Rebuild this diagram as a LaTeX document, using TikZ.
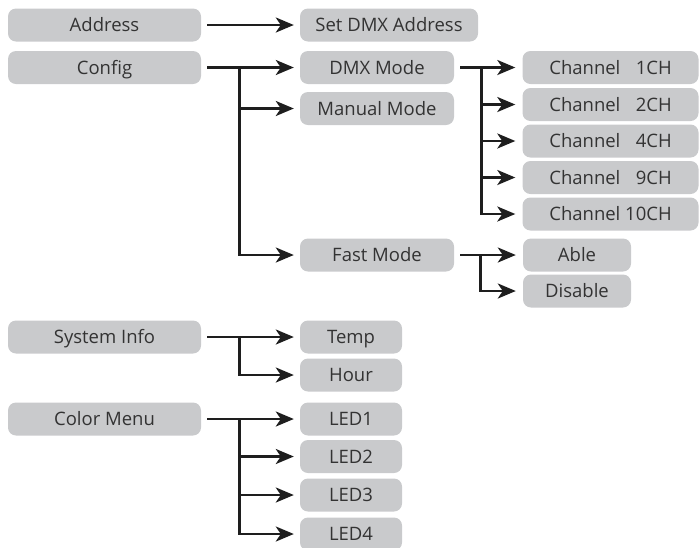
\documentclass[tikz,border=0pt]{standalone}
\usepackage{fontspec}
\setmainfont{Open Sans}
\usetikzlibrary{arrows.meta,calc}
\definecolor{boxgray}{HTML}{C9CACC}
\definecolor{textgray}{HTML}{333333}
\definecolor{linegray}{HTML}{1E1E1E}
\begin{document}
\begin{tikzpicture}[x=1pt,y=-1pt,
  box/.style={fill=boxgray, rounded corners=8pt, text=textgray, minimum height=33pt,
    inner sep=0pt, text height=13.2pt, text depth=0pt, font=\fontsize{18.5}{20}\selectfont},
  lbox/.style={box, minimum width=193pt},
  mbox/.style={box, minimum width=154pt},
  sbox/.style={box, minimum width=102pt},
  cbox/.style={box, minimum width=176pt},
  abox/.style={box, minimum width=108pt},
  arr/.style={draw=linegray, line width=2.7pt, line join=miter,
    -{Stealth[length=18pt,width=15pt,inset=5pt]}}]
\useasboundingbox (0,0) rectangle (700,547);

\node[lbox] (addr) at (104.5,25) {Address};
\node[lbox] (config) at (104.5,67.5) {Config};
\node[lbox] (sys) at (104.5,337) {System Info};
\node[lbox] (color) at (104.5,419) {Color Menu};

\node[box, minimum width=178pt] (setdmx) at (389,25) {Set DMX Address};
\node[mbox] (dmx) at (377,67.5) {DMX Mode};
\node[mbox] (manual) at (377,108.5) {Manual Mode};
\node[mbox] (fast) at (377,255) {Fast Mode};

\node[cbox] (c1) at (610.5,67.5) {Channel \hphantom{1}1CH};
\node[cbox] (c2) at (610.5,104.5) {Channel \hphantom{1}2CH};
\node[cbox] (c4) at (610.5,141) {Channel \hphantom{1}4CH};
\node[cbox] (c9) at (610.5,177.5) {Channel \hphantom{1}9CH};
\node[cbox] (c10) at (610.5,214) {Channel 10CH};

\node[abox] (able) at (577,255) {Able};
\node[abox] (disable) at (577,291) {Disable};

\node[sbox] (temp) at (351,337) {Temp};
\node[sbox] (hour) at (351,375) {Hour};
\node[sbox] (led1) at (351,419) {LED1};
\node[sbox] (led2) at (351,456.5) {LED2};
\node[sbox] (led3) at (351,495) {LED3};
\node[sbox] (led4) at (351,534) {LED4};

% Address
\draw[arr] ([xshift=6pt]addr.east) -- ([xshift=-6pt]setdmx.west);

% Config
\coordinate (cj) at ($(config.east)+(38pt,0)$);
\draw[arr] ([xshift=6pt]config.east) -- ([xshift=-6pt]dmx.west);
\draw[arr] (cj) |- ([xshift=-6pt]manual.west);
\draw[arr] (cj) |- ([xshift=-6pt]fast.west);

% DMX Mode
\coordinate (dj) at ($(dmx.east)+(27pt,0)$);
\draw[arr] ([xshift=6pt]dmx.east) -- ([xshift=-7pt]c1.west);
\draw[arr] (dj) |- ([xshift=-7pt]c2.west);
\draw[arr] (dj) |- ([xshift=-7pt]c4.west);
\draw[arr] (dj) |- ([xshift=-7pt]c9.west);
\draw[arr] (dj) |- ([xshift=-7pt]c10.west);

% Fast Mode
\coordinate (fj) at ($(fast.east)+(26pt,0)$);
\draw[arr] ([xshift=6pt]fast.east) -- ([xshift=-7pt]able.west);
\draw[arr] (fj) |- ([xshift=-7pt]disable.west);

% System Info
\coordinate (sj) at ($(sys.east)+(38pt,0)$);
\draw[arr] ([xshift=6pt]sys.east) -- ([xshift=-6pt]temp.west);
\draw[arr] (sj) |- ([xshift=-6pt]hour.west);

% Color Menu
\coordinate (mj) at ($(color.east)+(38pt,0)$);
\draw[arr] ([xshift=6pt]color.east) -- ([xshift=-6pt]led1.west);
\draw[arr] (mj) |- ([xshift=-6pt]led2.west);
\draw[arr] (mj) |- ([xshift=-6pt]led3.west);
\draw[arr] (mj) |- ([xshift=-6pt]led4.west);
\end{tikzpicture}
\end{document}
